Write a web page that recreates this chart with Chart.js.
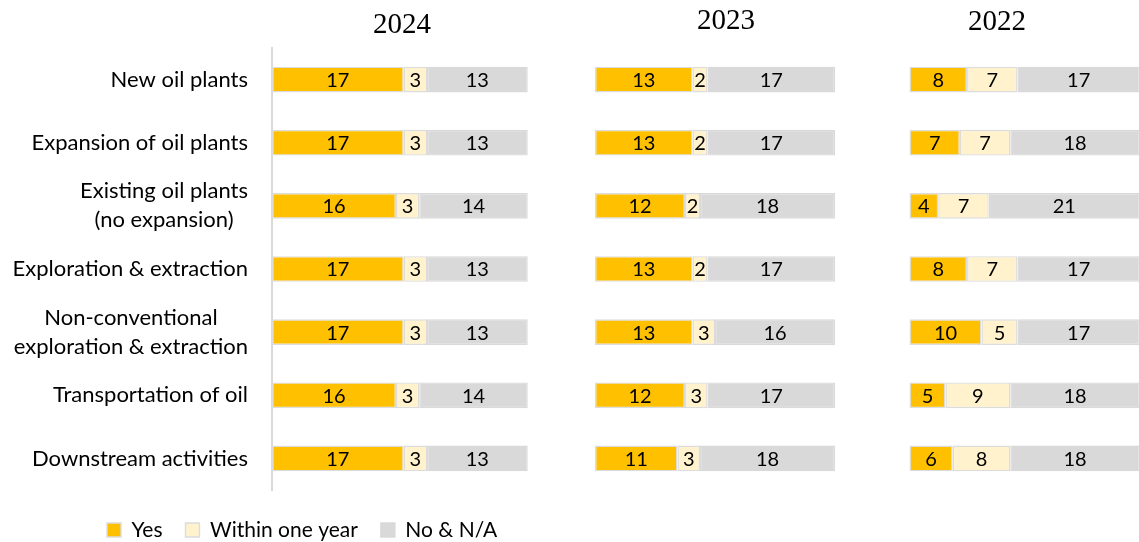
<!DOCTYPE html>
<html>
<head>
<meta charset="utf-8">
<script src="https://cdn.jsdelivr.net/npm/chart.js@4.4.1/dist/chart.umd.min.js"></script>
<style>
html,body{margin:0;padding:0;background:#fff;}
#wrap{position:relative;width:1139px;height:542px;}
</style>
</head>
<body>
<div id="wrap"><canvas id="c" width="1139" height="542"></canvas></div>
<script>
// ---- data ----
const categories = [
  'New oil plants',
  'Expansion of oil plants',
  ['Existing oil plants', '(no expansion)'],
  'Exploration & extraction',
  ['Non-conventional', 'exploration & extraction'],
  'Transportation of oil',
  'Downstream activities'
];
const years = ['2024', '2023', '2022'];
const seriesNames = ['Yes', 'Within one year', 'No & N/A'];

const yes2024    = [17, 17, 16, 17, 17, 16, 17];
const within2024 = [3, 3, 3, 3, 3, 3, 3];
const no2024     = [13, 13, 14, 13, 13, 14, 13];

const yes2023    = [13, 13, 12, 13, 13, 12, 11];
const within2023 = [2, 2, 2, 2, 3, 3, 3];
const no2023     = [17, 17, 18, 17, 16, 17, 18];

const yes2022    = [8, 7, 4, 8, 10, 5, 6];
const within2022 = [7, 7, 7, 7, 5, 9, 8];
const no2022     = [17, 18, 21, 17, 17, 18, 18];

// ---- styling ----
const seriesColors = ['#FFC000', '#FFF2CC', '#D9D9D9'];
const borderCol = '#DCDCDC';
const labelFont = 'Lato';
const legendStartX = 107;

const panels = [
  {id: 'x0', series: [yes2024, within2024, no2024]},
  {id: 'x1', series: [yes2023, within2023, no2023]},
  {id: 'x2', series: [yes2022, within2022, no2022]}
];

const datasets = [];
panels.forEach((p, pi) => {
  p.series.forEach((vals, si) => {
    datasets.push({
      label: seriesNames[si],
      data: vals,
      xAxisID: p.id,
      yAxisID: 'y',
      stack: 'all',
      backgroundColor: seriesColors[si],
      borderColor: si === 2 ? seriesColors[2] : borderCol,
      borderWidth: 1.4,
      borderSkipped: false,
      barPercentage: 0.407,
      categoryPercentage: 1,
      clip: false
    });
  });
});

function yearAxis(title, order, weight, min, max, padTop, padBottom) {
  return {
    type: 'linear', position: 'top', stack: 'years', stackWeight: weight,
    weight: order,
    stacked: true, min: min, max: max,
    grid: {display: false, drawTicks: false},
    border: {display: false},
    ticks: {display: false},
    title: {
      display: true, text: title, color: '#000',
      font: {family: 'Liberation Serif', size: 29, lineHeight: 1.2},
      padding: {top: padTop, bottom: padBottom}
    }
  };
}

const valueLabels = {
  id: 'valueLabels',
  afterDatasetsDraw(chart) {
    const ctx = chart.ctx;
    ctx.save();
    ctx.font = '20px ' + labelFont;
    ctx.fillStyle = '#000';
    ctx.textAlign = 'center';
    ctx.textBaseline = 'middle';
    chart.data.datasets.forEach((ds, i) => {
      const meta = chart.getDatasetMeta(i);
      meta.data.forEach((bar, j) => {
        const p = bar.getProps(['x', 'y', 'base'], true);
        ctx.fillText(String(ds.data[j]), (p.x + p.base) / 2, p.y + 1);
      });
    });
    ctx.restore();
  }
};

const centerMultiLine = {
  id: 'centerMultiLine',
  beforeDraw(chart) {
    const scale = chart.scales.y;
    const items = scale.getLabelItems(chart.chartArea);
    const ctx = chart.ctx;
    items.forEach(it => {
      if (it._centered) return;
      if (Array.isArray(it.label) && it.label.length > 1) {
        ctx.save();
        ctx.font = it.font.string;
        const w = Math.max(...it.label.map(t => ctx.measureText(t).width));
        ctx.restore();
        it.options.textAlign = 'center';
        it.options.translation[0] -= w / 2;
      }
      it._centered = true;
    });
  }
};

const legendShift = {
  id: 'legendShift',
  afterLayout(chart) {
    const lg = chart.legend;
    if (lg) {
      const pad = lg.options.labels.padding;
      lg.left = legendStartX - pad;
    }
  }
};

new Chart(document.getElementById('c'), {
  type: 'bar',
  data: {labels: categories, datasets: datasets},
  options: {
    indexAxis: 'y',
    responsive: false,
    animation: false,
    events: [],
    layout: {padding: {left: 0, right: 65, top: 0, bottom: -8.5}},
    scales: {
      y: {
        type: 'category', position: 'left', stacked: true,
        grid: {display: false, drawTicks: false},
        border: {display: true, color: '#D9D9D9', width: 2},
        ticks: {
          autoSkip: false, color: '#000', padding: 24,
          font: {family: labelFont, size: 22, lineHeight: 1.32}
        },
        afterFit(s) { s.width = 272; }
      },
      x0: yearAxis(years[0], 3, 260, 0, 33.55, 8.1, 5.1),
      x1: yearAxis(years[1], 2, 388, -8.4, 43.33, 3.6, 9.6),
      x2: yearAxis(years[2], 1, 154, 1.46, 22.85, 5.1, 8.1)
    },
    plugins: {
      tooltip: {enabled: false},
      legend: {
        display: true, position: 'bottom', align: 'start',
        title: {display: true, text: '', font: {size: 5.4, lineHeight: 1.2}, padding: 0},
        labels: {
          color: '#000', font: {family: labelFont, size: 21},
          boxWidth: 14, boxHeight: 14, padding: 23,
          filter: (item) => item.datasetIndex < 3
        }
      }
    }
  },
  plugins: [valueLabels, centerMultiLine, legendShift]
});
</script>
</body>
</html>
